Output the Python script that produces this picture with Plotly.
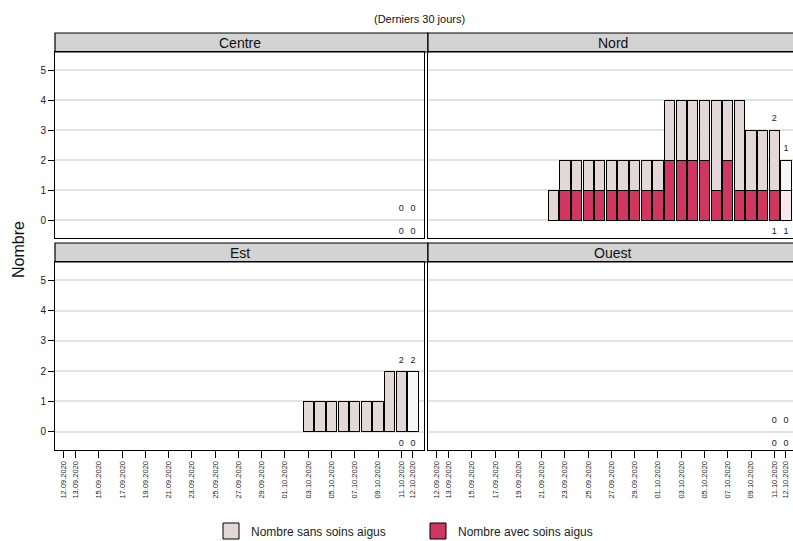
import plotly.graph_objects as go

# ---- data ----
dates = ["12.09.2020", "13.09.2020", "14.09.2020", "15.09.2020", "16.09.2020", "17.09.2020",
         "18.09.2020", "19.09.2020", "20.09.2020", "21.09.2020", "22.09.2020", "23.09.2020",
         "24.09.2020", "25.09.2020", "26.09.2020", "27.09.2020", "28.09.2020", "29.09.2020",
         "30.09.2020", "01.10.2020", "02.10.2020", "03.10.2020", "04.10.2020", "05.10.2020",
         "06.10.2020", "07.10.2020", "08.10.2020", "09.10.2020", "10.10.2020", "11.10.2020",
         "12.10.2020"]
tick_labels = ["12.09.2020", "13.09.2020", "15.09.2020", "17.09.2020", "19.09.2020", "21.09.2020",
               "23.09.2020", "25.09.2020", "27.09.2020", "29.09.2020", "01.10.2020", "03.10.2020",
               "05.10.2020", "07.10.2020", "09.10.2020", "11.10.2020", "12.10.2020"]
regions = ["Centre", "Nord", "Est", "Ouest"]

centre_sans = [0] * 31
centre_avec = [0] * 31
nord_sans = [0] * 10 + [1, 1, 1, 1, 1, 1, 1, 1, 1, 1, 2, 2, 2, 2, 3, 2, 3, 2, 2, 2, 1]
nord_avec = [0] * 10 + [0, 1, 1, 1, 1, 1, 1, 1, 1, 1, 2, 2, 2, 2, 1, 2, 1, 1, 1, 1, 1]
est_sans = [0] * 21 + [1, 1, 1, 1, 1, 1, 1, 2, 2, 2]
est_avec = [0] * 31
ouest_sans = [0] * 31
ouest_avec = [0] * 31

sans = {"Centre": centre_sans, "Nord": nord_sans, "Est": est_sans, "Ouest": ouest_sans}
avec = {"Centre": centre_avec, "Nord": nord_avec, "Est": est_avec, "Ouest": ouest_avec}

# ---- styling ----
W, H = 793, 541
C_SANS, C_AVEC = "#E3D7D7", "#CF3761"
C_SANS_LAST, C_AVEC_LAST = "#F8F6F6", "#FBE8EC"

def px_x(p):
    return p / W

def px_y(p):
    return 1 - p / H

panel_x = {"L": (55, 424), "R": (428, 793)}
panel_y = {"T": (52, 238), "B": (262, 450)}
strip_y = {"T": (33, 52), "B": (243, 262)}
pos = {"Centre": ("L", "T"), "Nord": ("R", "T"), "Est": ("L", "B"), "Ouest": ("R", "B")}
xranges = {"L": [-0.77, 30.95], "R": [-0.77, 30.61]}
strip_cx = {"L": (55 + 424) / 2, "R": (428 + 797) / 2}

x = list(range(len(dates)))
tickvals = [dates.index(t) for t in tick_labels]
last = len(dates) - 1

def nz(v):
    return [None if a == 0 else a for a in v]

fig = go.Figure()
layout = dict(
    width=W, height=H, margin=dict(l=0, r=0, t=0, b=0, autoexpand=False),
    paper_bgcolor="white", plot_bgcolor="white", barmode="stack",
    font=dict(family="Liberation Sans, Arial", color="#222222"),
    showlegend=True,
    legend=dict(orientation="h", x=px_x(211), xanchor="left", xref="container",
                y=px_y(531), yanchor="middle", yref="container",
                font=dict(size=12, color="#222222"), entrywidth=162, traceorder="normal",
                itemsizing="trace"),
)
shapes, annotations = [], []

for i, reg in enumerate(regions):
    cx, ry = pos[reg]
    n = i + 1
    xa = "x" if n == 1 else f"x{n}"
    ya = "y" if n == 1 else f"y{n}"
    cols_s = [C_SANS_LAST if j == last else C_SANS for j in x]
    cols_a = [C_AVEC_LAST if j == last else C_AVEC for j in x]
    fig.add_trace(go.Bar(x=x, y=nz(avec[reg]), width=0.88, marker=dict(color=cols_a, line=dict(color="black", width=1)),
                         name="Nombre avec soins aigus", legendgroup="avec", showlegend=False,
                         xaxis=xa, yaxis=ya, hoverinfo="skip"))
    fig.add_trace(go.Bar(x=x, y=nz(sans[reg]), width=0.88, marker=dict(color=cols_s, line=dict(color="black", width=1)),
                         name="Nombre sans soins aigus", legendgroup="sans", showlegend=False,
                         xaxis=xa, yaxis=ya, hoverinfo="skip"))
    # labels for the last two days
    lx = [last - 1, last]
    tot = [sans[reg][j] + avec[reg][j] for j in lx]
    fig.add_trace(go.Scatter(x=lx + lx, y=[t + 0.36 for t in tot] + [-0.4, -0.4],
                             text=[str(sans[reg][j]) for j in lx] + [str(avec[reg][j]) for j in lx],
                             mode="text", textfont=dict(size=9, color="#222222"), showlegend=False,
                             cliponaxis=False, xaxis=xa, yaxis=ya, hoverinfo="skip"))
    x0, x1 = panel_x[cx]
    y0, y1 = panel_y[ry]
    axx = dict(domain=[px_x(x0), min(1.0, px_x(x1))], range=xranges[cx], anchor=ya,
               showgrid=False, zeroline=False, showline=True, linecolor="black", linewidth=1, mirror=True,
               tickmode="array", tickvals=tickvals, ticktext=tick_labels)
    if ry == "B":
        axx.update(ticks="outside", ticklen=7, tickcolor="black", tickangle=-90,
                   tickfont=dict(size=7.5, color="#222222"), showticklabels=True)
    else:
        axx.update(ticks="", showticklabels=False)
    axy = dict(domain=[px_y(y1), px_y(y0)], range=[-0.6, 5.6], anchor=xa,
               showgrid=True, gridcolor="#E3E3E3", gridwidth=1.5, zeroline=False,
               showline=True, linecolor="black", linewidth=1, mirror=True,
               tickmode="linear", tick0=0, dtick=1)
    if cx == "L":
        axy.update(ticks="outside", ticklen=6, tickcolor="black", tickfont=dict(size=10, color="#222222"))
    else:
        axy.update(ticks="", showticklabels=False)
    layout["xaxis" if n == 1 else f"xaxis{n}"] = axx
    layout["yaxis" if n == 1 else f"yaxis{n}"] = axy
    sy0, sy1 = strip_y[ry]
    shapes.append(dict(type="rect", xref="paper", yref="paper", x0=px_x(x0), x1=px_x(x1 + 4),
                       y0=px_y(sy1), y1=px_y(sy0), fillcolor="#D3D3D3", line=dict(color="black", width=1.2),
                       layer="below"))
    annotations.append(dict(text=reg, xref="paper", yref="paper", x=px_x(strip_cx[cx]), y=px_y((sy0 + sy1) / 2),
                            showarrow=False, font=dict(size=14, color="#111111"), xanchor="center", yanchor="middle"))

# legend entries (same series, larger swatches)
fig.add_trace(go.Scatter(x=[None], y=[None], mode="markers", name="Nombre sans soins aigus", legendgroup="sans",
                         marker=dict(symbol="square", size=17, color=C_SANS, line=dict(color="black", width=1))))
fig.add_trace(go.Scatter(x=[None], y=[None], mode="markers", name="Nombre avec soins aigus", legendgroup="avec",
                         marker=dict(symbol="square", size=17, color=C_AVEC, line=dict(color="black", width=1))))

annotations.append(dict(text="(Derniers 30 jours)", xref="paper", yref="paper", x=px_x(420), y=px_y(19),
                        showarrow=False, font=dict(size=11, color="#111111"), xanchor="center", yanchor="middle"))
annotations.append(dict(text="Nombre", xref="paper", yref="paper", x=px_x(18), y=px_y(250), textangle=-90,
                        showarrow=False, font=dict(size=16, color="#111111"), xanchor="center", yanchor="middle"))

layout["shapes"] = shapes
layout["annotations"] = annotations
fig.update_layout(**layout)
fig.write_html("out.html", config={"displayModeBar": False},
               post_script="document.body.style.margin='0px';document.body.style.overflow='hidden';")
